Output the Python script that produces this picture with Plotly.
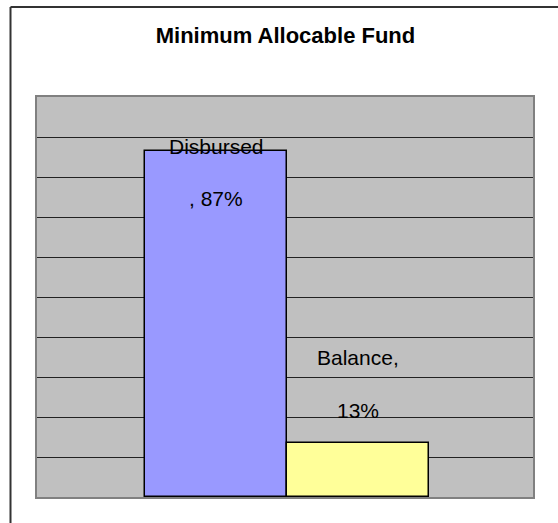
import plotly.graph_objects as go

categories = ["Disbursed", "Balance"]
values = [0.866, 0.134]
label_names = ["Disbursed", "Balance,"]
label_pcts = [", 87%", "13%"]
colors = ["#9999FF", "#FFFF99"]

fig = go.Figure()
fig.add_trace(go.Bar(
    x=categories, y=values, width=1,
    marker=dict(color=colors, line=dict(color="#000000", width=1.5)),
    hoverinfo="skip", showlegend=False,
))

font = dict(family="Liberation Sans, Arial, sans-serif", size=21, color="#000000")
name_shift = [4, 86]
pct_shift = [-48, 33]
for c, v, n, p, s1, s2 in zip(categories, values, label_names, label_pcts, name_shift, pct_shift):
    fig.add_annotation(x=c, y=v, text=n, showarrow=False, yshift=s1, font=font,
                       xanchor="center", yanchor="middle")
    fig.add_annotation(x=c, y=v, text=p, showarrow=False, yshift=s2, font=font,
                       xanchor="center", yanchor="middle")

# outer chart border (extends beyond the visible window on right/bottom)
bx = (10.5 - 37) / 496
by = (497 - 7) / 400
border = dict(color="#333333", width=2)
fig.add_shape(type="line", xref="paper", yref="paper", x0=bx, x1=1.2, y0=by, y1=by, line=border)
fig.add_shape(type="line", xref="paper", yref="paper", x0=bx, x1=bx, y0=-0.2, y1=by, line=border)

fig.update_layout(
    width=558, height=523,
    margin=dict(l=37, r=25, t=97, b=26),
    paper_bgcolor="#FFFFFF",
    plot_bgcolor="#C0C0C0",
    title=dict(text="<b>Minimum Allocable Fund</b>", x=0.501, xanchor="center", xref="paper",
               y=1 - 35 / 523, yanchor="middle", yref="container",
               font=dict(family="Liberation Sans, Arial, sans-serif", size=22, color="#000000")),
    xaxis=dict(range=[-1.262, 2.230], showticklabels=False, showgrid=False, zeroline=False,
               showline=True, linecolor="#808080", linewidth=2, mirror=True, ticks=""),
    yaxis=dict(range=[0, 1], dtick=0.1, showticklabels=False, showgrid=True,
               gridcolor="#222222", gridwidth=1, zeroline=False,
               showline=True, linecolor="#808080", linewidth=2, mirror=True, ticks=""),
    bargap=0,
)

fig.write_html("out.html", config={"displayModeBar": False},
               post_script="document.body.style.margin='0';document.body.style.overflow='hidden';")
